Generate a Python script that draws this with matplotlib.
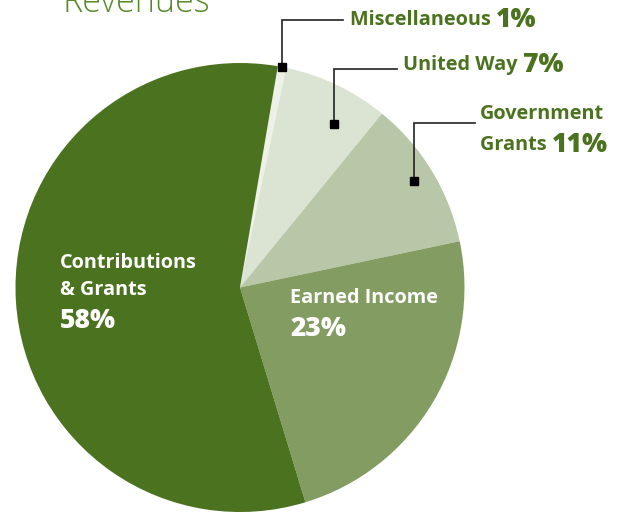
import numpy as np
import matplotlib.pyplot as plt

# slices, clockwise from the top
categories = ['Miscellaneous', 'United Way', 'Government Grants',
              'Earned Income', 'Contributions & Grants']
values = [0.6, 7.6, 10.8, 23.6, 57.4]
pct_labels = ['1%', '7%', '11%', '23%', '58%']
colors = ['#edf1e8', '#dbe4d3', '#b8c7a8', '#839c62', '#4b721e']

title = 'Revenues'
green = '#4b721e'
font = 'Open Sans'

W, H = 625, 514
cx, cy, R = 240, 287.5, 224.5

fig = plt.figure(figsize=(W/100, H/100), dpi=100)
ax = fig.add_axes([(cx-R)/W, (H-cy-R)/H, 2*R/W, 2*R/H])
wedges, _ = ax.pie(values, colors=colors, startangle=80.3, counterclock=False,
                   radius=1, wedgeprops=dict(linewidth=0))
ax.set_xlim(-1, 1)
ax.set_ylim(-1, 1)
ax.set_aspect('equal')
ax.axis('off')

def px(x, y):
    # pixel position -> pie data coords
    return (x-cx)/R, (cy-y)/R

# title, cut by the top edge
fig.text(62/W, 1-12/H, title, color='#5a8a2c', fontsize=24.6, family=font,
         fontweight='light', ha='left', va='baseline')

# leader lines: marker on the slice, up, then right to the label
leaders = [
    # slice index, radius fraction, angle shift, line top y, line end x
    (0, 1.0, 0.0, 20, 343),
    (1, 0.84, -4.5, 69, 397),
    (2, 0.91, 0.0, 123, 475),
]
for i, rf, dth, ty, ex in leaders:
    w = wedges[i]
    th = np.deg2rad((w.theta1 + w.theta2)/2 + dth)
    mx, my = rf*np.cos(th), rf*np.sin(th)
    _, tyd = px(0, ty)
    exd, _ = px(ex, 0)
    ax.plot([mx, mx, exd], [my, tyd, tyd], color='#222222', lw=1.2,
            clip_on=False, solid_joinstyle='miter')
    ax.plot([mx], [my], marker='s', ms=6, color='black', clip_on=False)

name_size = 14.3
pct_size = 19

def label(x, y, name, pct, color):
    t = ax.text(*px(x, y), name + ' ', color=color, fontsize=name_size,
                family=font, fontweight='bold', ha='left', va='center')
    ax.annotate(pct, xycoords=t, xy=(1, 0.5), va='center', ha='left',
                color=color, fontsize=pct_size, family=font,
                fontweight='heavy')

label(350, 20, categories[0], pct_labels[0], green)
label(403, 65, categories[1], pct_labels[1], green)
ax.text(*px(480, 114), 'Government', color=green, fontsize=name_size,
        family=font, fontweight='bold', ha='left', va='center')
label(480, 145, 'Grants', pct_labels[2], green)

# inside labels
ax.text(*px(60, 263), 'Contributions', color='white', fontsize=name_size,
        family=font, fontweight='bold', ha='left', va='center')
ax.text(*px(60, 290), '& Grants', color='white', fontsize=name_size,
        family=font, fontweight='bold', ha='left', va='center')
ax.text(*px(60, 321), pct_labels[4], color='white', fontsize=pct_size,
        family=font, fontweight='heavy', ha='left', va='center')
ax.text(*px(290, 298), 'Earned Income', color='white', fontsize=name_size,
        family=font, fontweight='bold', ha='left', va='center')
ax.text(*px(290, 329), pct_labels[3], color='white', fontsize=pct_size,
        family=font, fontweight='heavy', ha='left', va='center')

fig.savefig('out.png', dpi=100)
